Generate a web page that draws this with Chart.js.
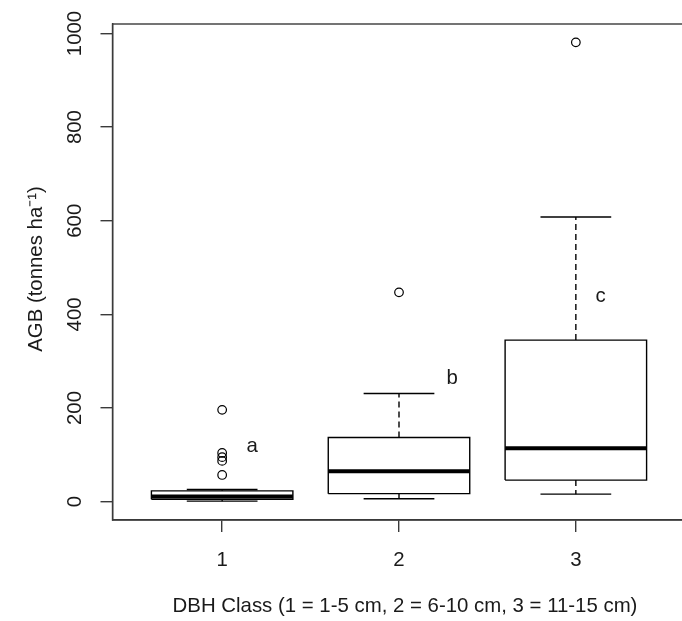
<!DOCTYPE html>
<html>
<head>
<meta charset="utf-8">
<script src="https://cdn.jsdelivr.net/npm/chart.js@4.4.1/dist/chart.umd.min.js"></script>
<style>
  html, body { margin: 0; padding: 0; background: #ffffff; overflow: hidden; }
  canvas { display: block; }
</style>
</head>
<body>
<canvas id="c" width="691" height="621"></canvas>
<script>
// ---- data ----
const categories = [1, 2, 3];
const xTickLabels = ['1', '2', '3'];
const lowerWhisker = [1, 6, 16];
const q1 = [5, 17, 46];
const median = [11, 65, 114];
const q3 = [23, 137, 345];
const upperWhisker = [26, 231, 608];
const outliersClass1 = [196, 104, 95, 87, 57];
const outliersClass2 = [447];
const outliersClass3 = [981];
const yTicks = [0, 200, 400, 600, 800, 1000];
const groupLetters = ['a', 'b', 'c'];
const xTitle = 'DBH Class (1 = 1-5 cm, 2 = 6-10 cm, 3 = 11-15 cm)';
const yTitle = 'AGB (tonnes ha\u207B\u00B9)';

// ---- annotation placement (data coordinates) ----
const letterX = [1.17, 2.30, 3.14];
const letterY = [117, 263, 438];

// ---- styling ----
const FONT = '"Liberation Sans", Arial, sans-serif';
const FS = 20.4;
const TXT = '#1a1a1a';
const FRAME = '#3a3a3a';
const BOXW = 0.4;   // half box width (x units)
const CAPW = 0.2;   // half staple width

const outliers = [outliersClass1, outliersClass2, outliersClass3];
const datasets = [];
categories.forEach((c, i) => {
  const base = { type: 'line', pointRadius: 0, borderColor: '#000', fill: false, tension: 0, borderWidth: 1.4, borderCapStyle: 'butt' };
  // whiskers (dashed)
  datasets.push(Object.assign({}, base, { borderDash: [6, 4], data: [{x: c, y: q3[i]}, {x: c, y: upperWhisker[i]}] }));
  datasets.push(Object.assign({}, base, { borderDash: [6, 4], data: [{x: c, y: q1[i]}, {x: c, y: lowerWhisker[i]}] }));
  // staples
  datasets.push(Object.assign({}, base, { data: [{x: c - CAPW, y: upperWhisker[i]}, {x: c + CAPW, y: upperWhisker[i]}] }));
  datasets.push(Object.assign({}, base, { data: [{x: c - CAPW, y: lowerWhisker[i]}, {x: c + CAPW, y: lowerWhisker[i]}] }));
  // box
  datasets.push(Object.assign({}, base, { borderJoinStyle: 'miter', data: [
    {x: c - BOXW, y: q1[i]}, {x: c + BOXW, y: q1[i]}, {x: c + BOXW, y: q3[i]},
    {x: c - BOXW, y: q3[i]}, {x: c - BOXW, y: q1[i]}] }));
  // median
  datasets.push(Object.assign({}, base, { borderWidth: 4, data: [{x: c - BOXW, y: median[i]}, {x: c + BOXW, y: median[i]}] }));
  // outliers
  datasets.push({ type: 'scatter', showLine: false, pointRadius: 4.3, pointHoverRadius: 4.3,
    pointBorderWidth: 1.2, pointBorderColor: '#000', pointBackgroundColor: 'rgba(0,0,0,0)',
    data: outliers[i].map(v => ({x: c, y: v})) });
});

const textPlugin = {
  id: 'rtext',
  afterDraw(chart) {
    const ctx = chart.ctx, a = chart.chartArea, xs = chart.scales.x, ys = chart.scales.y;
    ctx.save();
    // plot frame
    ctx.strokeStyle = FRAME; ctx.lineWidth = 1.4;
    ctx.strokeRect(a.left, a.top, a.right - a.left, a.bottom - a.top);
    ctx.fillStyle = TXT;
    ctx.font = FS + 'px ' + FONT;
    ctx.textAlign = 'center'; ctx.textBaseline = 'middle';
    // y tick labels (rotated, as in R)
    yTicks.forEach(v => {
      ctx.save();
      ctx.translate(75, ys.getPixelForValue(v));
      ctx.rotate(-Math.PI / 2);
      ctx.fillText(String(v), 0, 0);
      ctx.restore();
    });
    // y title
    ctx.save();
    ctx.translate(36, (a.top + a.bottom) / 2 - 3);
    ctx.rotate(-Math.PI / 2);
    ctx.fillText(yTitle, 0, 0);
    ctx.restore();
    // x title
    ctx.fillText(xTitle, 405, 606);
    // group letters
    groupLetters.forEach((t, i) => {
      ctx.fillText(t, xs.getPixelForValue(letterX[i]), ys.getPixelForValue(letterY[i]));
    });
    ctx.restore();
  }
};

new Chart(document.getElementById('c'), {
  data: { datasets },
  options: {
    responsive: false,
    animation: false,
    events: [],
    layout: { padding: { top: 24, right: 0, left: 0, bottom: 0 } },
    plugins: { legend: { display: false }, tooltip: { enabled: false } },
    scales: {
      x: {
        type: 'linear', min: 0.38, max: 3.62,
        afterBuildTicks: s => { s.ticks = categories.map(v => ({ value: v })); },
        afterFit: s => { s.height = 101; },
        grid: { drawOnChartArea: false, drawTicks: true, tickLength: 12, color: FRAME, lineWidth: 1.4 },
        border: { display: true, color: FRAME, width: 1.4 },
        ticks: { color: TXT, font: { family: FONT, size: FS }, padding: 16,
          callback: (v) => xTickLabels[categories.indexOf(v)] ?? '' }
      },
      y: {
        type: 'linear', min: -39.24, max: 1020.24,
        afterBuildTicks: s => { s.ticks = yTicks.map(v => ({ value: v })); },
        afterFit: s => { s.width = 112.5; },
        grid: { drawOnChartArea: false, drawTicks: true, tickLength: 12, color: FRAME, lineWidth: 1.4 },
        border: { display: true, color: FRAME, width: 1.4 },
        ticks: { display: false }
      }
    }
  },
  plugins: [textPlugin]
});
</script>
</body>
</html>
